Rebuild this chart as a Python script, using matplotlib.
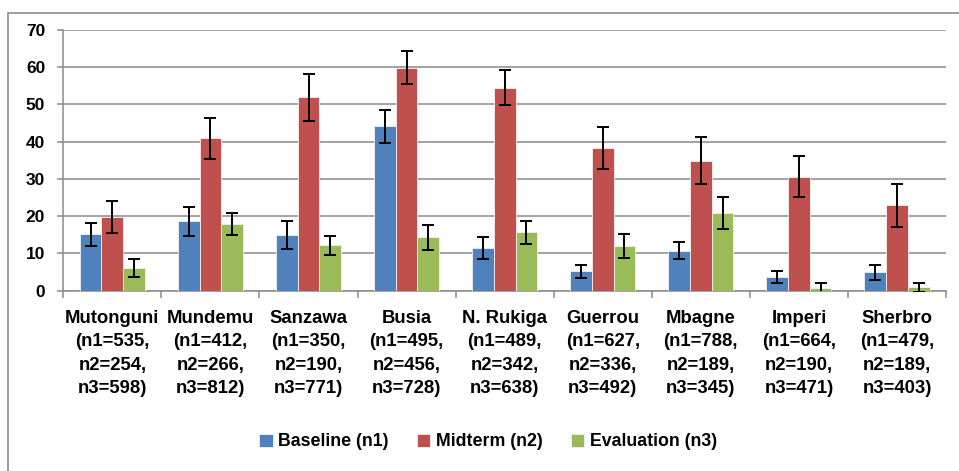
import matplotlib
matplotlib.use("Agg")
import matplotlib.pyplot as plt
import numpy as np
from matplotlib.patches import Rectangle

# Sites and sample sizes
sites = ["Mutonguni", "Mundemu", "Sanzawa", "Busia", "N. Rukiga",
         "Guerrou", "Mbagne", "Imperi", "Sherbro"]
n1 = [535, 412, 350, 495, 489, 627, 788, 664, 479]
n2 = [254, 266, 190, 456, 342, 336, 189, 190, 189]
n3 = [598, 812, 771, 728, 638, 492, 345, 471, 403]

# Values (%)
baseline = [15.2, 18.6, 15.0, 44.1, 11.5, 5.2, 10.7, 3.7, 4.9]
midterm = [19.9, 40.9, 51.9, 59.9, 54.5, 38.3, 34.9, 30.6, 22.9]
evaluation = [6.1, 17.9, 12.2, 14.3, 15.7, 12.0, 20.9, 0.6, 0.9]

# Error bar half-widths
baseline_err = [3.1, 3.8, 3.7, 4.4, 2.9, 1.7, 2.25, 1.5, 2.0]
midterm_err = [4.3, 5.5, 6.3, 4.5, 4.7, 5.7, 6.3, 5.5, 5.7]
evaluation_err = [2.35, 2.9, 2.6, 3.3, 3.1, 3.2, 4.2, 1.5, 1.3]

series_names = ["Baseline (n1)", "Midterm (n2)", "Evaluation (n3)"]
series_colors = ["#4F81BD", "#C0504D", "#9BBB59"]

FONT = "Liberation Sans"
plt.rcParams['font.family'] = [FONT, 'DejaVu Sans']
plt.rcParams['font.weight'] = 'bold'

fig = plt.figure(figsize=(9.59, 4.71), dpi=100)
ax = fig.add_axes([0.066, 0.3828, 0.9205, 0.5535])

# outer chart border (partly cut off in the original)
fig.patches.append(Rectangle((8 / 959, -0.1), 1.2, 1 - 13 / 471 + 0.1,
                             transform=fig.transFigure, fill=False,
                             edgecolor="#8c8c8c", linewidth=1.2))

x = np.arange(len(sites))
w = 0.221
values = [baseline, midterm, evaluation]
errs = [baseline_err, midterm_err, evaluation_err]

for i, (vals, err, name, col) in enumerate(zip(values, errs, series_names, series_colors)):
    pos = x + (i - 1) * w
    ax.bar(pos, vals, width=w, color=col, edgecolor="#f2f2f2", linewidth=0.6,
           label=name, zorder=3)
    ax.errorbar(pos, vals, yerr=err, fmt="none", ecolor="black",
                elinewidth=1.4, capsize=4.5, capthick=1.4, zorder=4)

ax.set_xlim(-0.5, len(sites) - 0.5)
ax.set_ylim(0, 70)
ax.set_yticks(range(0, 71, 10))

# grid and spines
ax.yaxis.grid(True, color="#8a8a8a", linewidth=1.1, zorder=0)
ax.set_axisbelow(True)
for s in ["top", "right"]:
    ax.spines[s].set_visible(False)
ax.spines["left"].set_color("#8a8a8a")
ax.spines["bottom"].set_color("#8a8a8a")
ax.spines["left"].set_linewidth(1.1)
ax.spines["bottom"].set_linewidth(1.1)

ax.tick_params(axis="y", length=4, color="#8a8a8a", width=1.1,
               labelsize=12.5, pad=9)

labels = [f"{s}\n(n1={a},\nn2={b},\nn3={c})" for s, a, b, c in zip(sites, n1, n2, n3)]
ax.set_xticks(x)
ax.set_xticklabels(labels, fontsize=13.3, linespacing=1.48)
ax.tick_params(axis="x", which="major", length=0, pad=14)
ax.set_xticks(np.arange(-0.5, len(sites)), minor=True)
ax.tick_params(axis="x", which="minor", length=5, color="#8a8a8a", width=1.1)

for lab in ax.get_yticklabels() + ax.get_xticklabels():
    lab.set_fontweight("bold")

fig.legend(loc="center", bbox_to_anchor=(0.509, 0.062), ncol=3, frameon=False,
           prop={"size": 12.8, "weight": "bold"}, handlelength=0.75,
           handleheight=0.75, handletextpad=0.3, columnspacing=1.6)

fig.savefig("out.png", dpi=100)
